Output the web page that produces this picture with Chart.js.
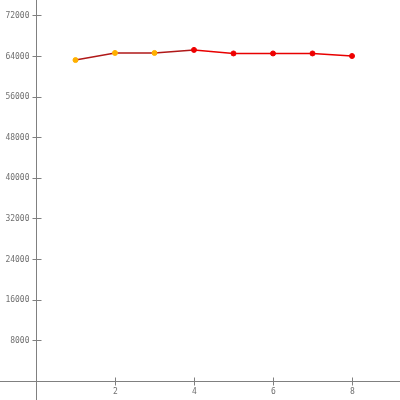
<!DOCTYPE html>
<html>
<head>
<meta charset="utf-8">
<script src="https://cdn.jsdelivr.net/npm/chart.js@4/dist/chart.umd.min.js"></script>
<style>html,body{margin:0;padding:0;background:#fff;}canvas{display:block;}</style>
</head>
<body>
<canvas id="c" width="400" height="400"></canvas>
<script>
const xValues = [1, 2, 3, 4, 5, 6, 7, 8];
const yValues = [63200, 64600, 64600, 65200, 64500, 64500, 64500, 64000];
const xTicks = [2, 4, 6, 8];
const yTicks = [8000, 16000, 24000, 32000, 40000, 48000, 56000, 64000, 72000];
const pointColors = ['#ffb000', '#ffb000', '#ffb000', '#ee0000', '#ee0000', '#ee0000', '#ee0000', '#ee0000'];

const axisColor = '#808080';
const crossTicks = {
  id: 'crossTicks',
  afterDraw(chart) {
    const ctx = chart.ctx;
    const xs = chart.scales.x, ys = chart.scales.y;
    const x0 = Math.round(xs.getPixelForValue(0)) + 0.5, y0 = Math.round(ys.getPixelForValue(0)) + 0.5;
    ctx.save();
    ctx.strokeStyle = axisColor;
    ctx.lineWidth = 1;
    ctx.beginPath();
    ctx.moveTo(0, y0); ctx.lineTo(chart.width, y0);
    ctx.moveTo(x0, 0); ctx.lineTo(x0, chart.height);
    xs.ticks.forEach(t => {
      const px = Math.round(xs.getPixelForValue(t.value)) + 0.5;
      ctx.moveTo(px, y0 - 4); ctx.lineTo(px, y0 + 4);
    });
    ys.ticks.forEach(t => {
      const py = Math.round(ys.getPixelForValue(t.value)) + 0.5;
      ctx.moveTo(x0 - 4, py); ctx.lineTo(x0 + 5, py);
    });
    ctx.stroke();
    ctx.fillStyle = '#707070';
    ctx.font = '8px "DejaVu Sans Mono"';
    ctx.textAlign = 'right';
    ctx.textBaseline = 'middle';
    ys.ticks.forEach(t => {
      ctx.fillText(String(t.value), x0 - 7, ys.getPixelForValue(t.value) + 0.5);
    });
    ctx.textAlign = 'center';
    ctx.textBaseline = 'top';
    xs.ticks.forEach(t => {
      ctx.fillText(String(t.value), xs.getPixelForValue(t.value) + 0.5, y0 + 6);
    });
    ctx.restore();
  }
};

new Chart(document.getElementById('c'), {
  type: 'line',
  data: {
    datasets: [{
      data: xValues.map((x, i) => ({x: x, y: yValues[i]})),
      borderColor: '#b01818',
      borderWidth: 1.5,
      pointRadius: 2.5,
      pointHoverRadius: 2.5,
      pointStyle: 'circle',
      pointBackgroundColor: pointColors,
      pointBorderColor: pointColors,
      pointBorderWidth: 1,
      segment: {
        borderColor: ctx => ctx.p0DataIndex >= 3 ? '#e80000' : '#b01818'
      },
      tension: 0
    }]
  },
  options: {
    responsive: false,
    animation: false,
    layout: {padding: 0, autoPadding: false},
    plugins: {legend: {display: false}, tooltip: {enabled: false}},
    scales: {
      x: {
        type: 'linear',
        display: false,
        min: -0.911,
        max: 9.215,
        afterBuildTicks: s => { s.ticks = xTicks.map(v => ({value: v})); }
      },
      y: {
        type: 'linear',
        display: false,
        min: -3742,
        max: 75028,
        afterBuildTicks: s => { s.ticks = yTicks.map(v => ({value: v})); }
      }
    }
  },
  plugins: [crossTicks]
});
</script>
</body>
</html>
